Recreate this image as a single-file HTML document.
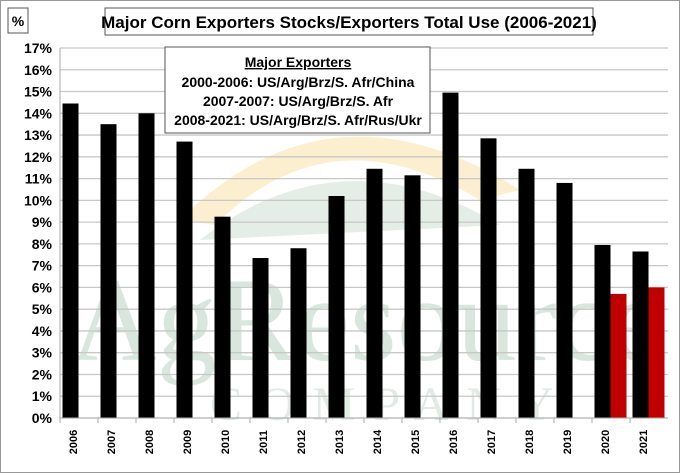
<!DOCTYPE html>
<html><head><meta charset="utf-8"><style>
html,body{margin:0;padding:0;background:#fff;}
svg{display:block;font-family:"Liberation Sans",sans-serif;}
</style></head><body>
<svg id="chart" width="680" height="473" viewBox="0 0 680 473">
<rect x="0.5" y="0.5" width="679" height="472" fill="#fff" stroke="#999"/>
<g opacity="0.55">
<path d="M180,220 Q330,70 520,190 L480,200 Q330,110 215,225 Z" fill="#fbe3a8"/>
<path d="M200,240 Q340,130 500,225 L200,240 Z" fill="#cfe0d3"/>
<text x="70" y="360" font-family="Liberation Serif,serif" font-size="120" fill="#b9d3c2">AgResource</text>
<text x="210" y="420" font-family="Liberation Serif,serif" font-size="48" fill="#c9dccf" letter-spacing="18">COMPANY</text>
</g>
<g id="grid"></g>
<g id="bars"></g>
<g id="axes"></g>
<rect x="8" y="8" width="20" height="25" fill="#fff" stroke="#555"/>
<text x="18" y="26" text-anchor="middle" font-size="14" font-weight="bold">%</text>
<rect x="105" y="8" width="488" height="27" fill="#fff" stroke="#555"/>
<text x="349" y="28" text-anchor="middle" font-size="17" font-weight="bold">Major Corn Exporters Stocks/Exporters Total Use (2006-2021)</text>
<g>
<rect x="165" y="47" width="265" height="86" fill="#fff" stroke="#555"/>
<text x="298" y="67" text-anchor="middle" font-size="14" font-weight="bold" text-decoration="underline">Major Exporters</text>
<text x="298" y="87" text-anchor="middle" font-size="14" font-weight="bold">2000-2006:  US/Arg/Brz/S. Afr/China</text>
<text x="298" y="106" text-anchor="middle" font-size="14" font-weight="bold">2007-2007: US/Arg/Brz/S. Afr</text>
<text x="298" y="125" text-anchor="middle" font-size="14" font-weight="bold">2008-2021: US/Arg/Brz/S. Afr/Rus/Ukr</text>
</g>
</svg>
<script>
const years=["2006","2007","2008","2009","2010","2011","2012","2013","2014","2015","2016","2017","2018","2019","2020","2021"];
const blackValues=[14.45,13.5,14.0,12.7,9.25,7.35,7.8,10.2,11.45,11.15,14.95,12.85,11.45,10.8,7.95,7.65];
const redValues=[null,null,null,null,null,null,null,null,null,null,null,null,null,null,5.7,6.0];
const yTicks=[0,1,2,3,4,5,6,7,8,9,10,11,12,13,14,15,16,17];
const NS="http://www.w3.org/2000/svg";
const L=60,R=668,T=48,B=418,YMAX=17;
const cw=(R-L)/years.length;
const y=v=>B-(v/YMAX)*(B-T);
const xc=i=>L+i*cw;
function mk(tag,attrs,parent){const e=document.createElementNS(NS,tag);for(const k in attrs)e.setAttribute(k,attrs[k]);parent.appendChild(e);return e;}
const grid=document.getElementById('grid'),bars=document.getElementById('bars'),axes=document.getElementById('axes');
yTicks.forEach(t=>{
  const ln=mk('line',{x1:L,x2:R,y1:y(t),y2:y(t),stroke:'#c8c8c8','stroke-width':1.3},grid);
  
  
  const tx=mk('text',{x:L-8,y:y(t)+5,'text-anchor':'end','font-size':14,'font-weight':'bold'},axes);
  tx.textContent=t+'%';
  
  
});
const ax=mk('line',{x1:L,x2:L,y1:T,y2:B,stroke:'#aaa'},axes);


const bx=mk('line',{x1:L,x2:R,y1:B,y2:B,stroke:'#aaa'},axes);


years.forEach((yr,i)=>{
  const tk=mk('line',{x1:xc(i),x2:xc(i),y1:B,y2:B+5,stroke:'#aaa'},axes);
  
  
  const b=mk('rect',{x:xc(i)+2.5,y:y(blackValues[i]),width:16,height:B-y(blackValues[i]),fill:'#000'},bars);
  
  
  if(redValues[i]!=null){
    const r=mk('rect',{x:xc(i)+18.5,y:y(redValues[i]),width:16,height:B-y(redValues[i]),fill:'#c00000'},bars);
    
    
  }
  const cx=xc(i)+cw/2-6, cy=B+24;
  const t=mk('text',{x:cx,y:cy,'text-anchor':'middle','font-size':11,'font-weight':'bold',transform:`rotate(-90 ${cx} ${cy})`,dy:4},axes);
  t.textContent=yr;
  
  
});
</script>
</body></html>
